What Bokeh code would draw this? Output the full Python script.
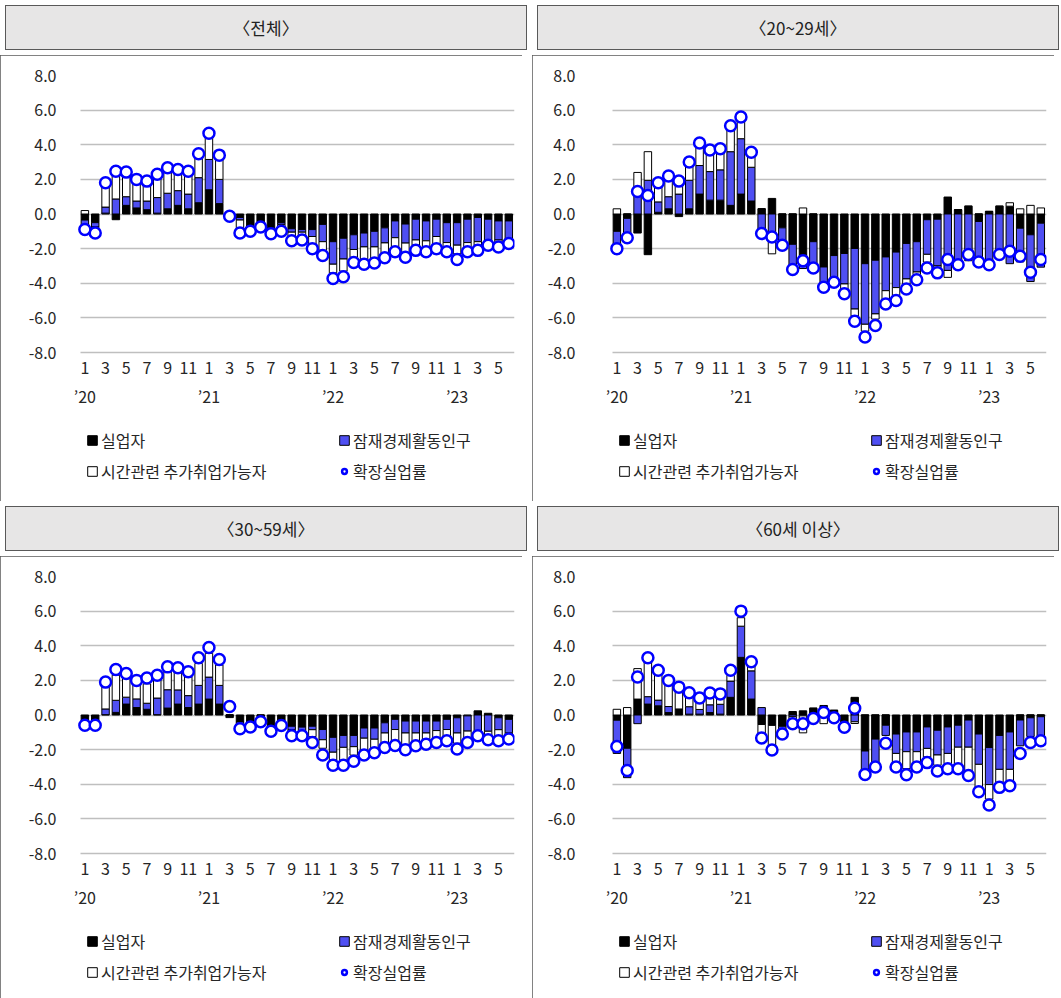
from bokeh.plotting import figure
from bokeh.models import (Range1d, FixedTicker, LinearAxis, Legend, LegendItem, Div,
                          ColumnDataSource, NumeralTickFormatter, BoxAnnotation, Grid)
from bokeh.layouts import column, row
from bokeh.embed import file_html
from bokeh.resources import INLINE

FONT = "Noto Sans CJK KR"

# ---------------- data (Jan 2020 .. Jun 2023, %p change vs. same month of previous year) ----------
months = list(range(42))
month_ticks = [0, 2, 4, 6, 8, 10, 12, 14, 16, 18, 20, 22, 24, 26, 28, 30, 32, 34, 36, 38, 40]
month_tick_labels = ["1", "3", "5", "7", "9", "11", "1", "3", "5", "7", "9", "11",
                     "1", "3", "5", "7", "9", "11", "1", "3", "5"]
year_ticks = [0, 12, 24, 36]
year_tick_labels = ["’20", "’21", "’22", "’23"]
y_ticks = [-8, -6, -4, -2, 0, 2, 4, 6, 8]

panel_titles = ["〈전체〉", "〈20~29세〉", "〈30~59세〉", "〈60세 이상〉"]
series_names = ["실업자", "잠재경제활동인구", "시간관련 추가취업가능자", "확장실업률"]

# 전체
all_unemp = [-0.35, -0.5, 0.05, -0.33, 0.5, 0.35, 0.25, 0.05, 0.3, 0.5, 0.3, 0.65, 1.4, 0.6,
             -0.1, -0.2, -0.7, -0.65, -0.8, -0.5, -0.85, -0.9, -0.9, -0.6, -1.6, -1.4, -1.2, -1.1,
             -1.0, -0.8, -0.4, -0.58, -0.3, -0.4, -0.3, -0.5, -0.5, -0.3, -0.2, -0.3, -0.4, -0.4]
all_potential = [-0.3, -0.25, 0.35, 0.87, 0.5, 0.4, 0.5, 0.9, 0.9, 0.85, 0.85, 1.45, 1.75, 1.4,
                 -0.02, -0.15, -0.1, -0.05, -0.1, -0.1, -0.2, -0.15, -0.4, -1.0, -1.3, -1.2, -0.85, -0.8,
                 -0.9, -0.87, -0.97, -1.1, -1.2, -1.15, -1.0, -1.15, -1.3, -1.35, -1.4, -1.25, -1.1, -1.2]
all_timerel = [0.2, -0.05, 1.4, 1.6, 1.4, 1.25, 1.15, 1.4, 1.45, 1.2, 1.3, 1.4, 1.5, 1.4,
               0.0, -0.45, -0.2, -0.05, -0.2, -0.4, -0.45, -0.45, -0.6, -0.5, -0.5, -0.7, -0.45, -0.75,
               -0.7, -0.58, -0.63, -0.6, -0.3, -0.35, -0.5, -0.35, -0.5, -0.25, -0.2, -0.1, -0.2, -0.1]
all_rate = [-0.9, -1.1, 1.8, 2.47, 2.42, 2.0, 1.9, 2.3, 2.67, 2.57, 2.47, 3.48, 4.66, 3.4,
            -0.13, -1.1, -1.0, -0.75, -1.14, -1.0, -1.55, -1.5, -2.0, -2.4, -3.73, -3.63, -2.8, -2.9,
            -2.83, -2.53, -2.18, -2.5, -2.1, -2.18, -2.0, -2.18, -2.63, -2.18, -2.1, -1.8, -1.9, -1.7]

# 20~29세
y20_unemp = [-1.0, -0.25, -1.1, -2.35, 0.1, 0.3, -0.15, 0.3, 1.15, 0.8, 0.8, 0.5, 1.15, 0.75,
             0.3, 0.9, -0.8, -1.75, -2.35, -1.6, -3.06, -2.4, -2.28, -1.99, -2.87, -2.67, -2.48, -2.2,
             -1.7, -1.6, -0.33, -0.3, 0.98, 0.25, 0.45, -0.43, 0.15, 0.45, 0.45, -0.82, -1.2, -0.53]
y20_potential = [-0.9, -1.05, 1.55, 1.95, 0.6, 0.7, 1.15, 1.65, 1.65, 1.65, 1.75, 3.1, 3.2, 1.95,
                 -1.05, -1.55, -1.0, -1.35, -0.8, -1.5, -0.9, -1.37, -1.76, -3.5, -3.5, -3.1, -1.95, -2.05,
                 -2.05, -1.75, -2.0, -2.7, -3.26, -2.77, -2.7, -2.44, -2.87, -2.58, -2.87, -1.95, -2.7, -2.54]
y20_timerel = [0.3, 0.0, 0.85, 1.65, 1.35, 1.2, 0.7, 1.0, 1.25, 1.25, 1.2, 1.5, 1.2, 0.75,
               0.0, -0.75, 0.0, 0.0, 0.35, 0.0, -0.1, -0.1, -0.3, -0.4, -0.4, -0.3, -0.5, -0.45,
               -0.3, -0.15, -0.45, -0.1, -0.4, 0.0, 0.0, 0.0, 0.0, 0.0, 0.2, 0.3, 0.5, 0.35]
y20_rate = [-2.0, -1.37, 1.3, 1.07, 1.8, 2.2, 1.9, 3.0, 4.1, 3.7, 3.77, 5.1, 5.6, 3.57,
            -1.13, -1.33, -1.8, -3.2, -2.7, -3.12, -4.23, -3.94, -4.6, -6.2, -7.1, -6.44, -5.2, -5.0,
            -4.33, -3.8, -3.12, -3.4, -2.63, -2.93, -2.34, -2.77, -2.93, -2.34, -2.15, -2.44, -3.36, -2.63]

# 30~59세
y30_unemp = [-0.4, -0.4, 0.02, 0.15, 0.63, 0.43, 0.33, 0.02, 0.4, 0.63, 0.43, 0.63, 0.92, 0.63,
             -0.15, -0.4, -0.45, -0.35, -0.6, -0.55, -0.65, -0.7, -0.65, -0.84, -1.29, -1.18, -1.18, -0.75,
             -0.75, -0.45, -0.25, -0.35, -0.35, -0.35, -0.35, -0.25, -0.16, -0.05, 0.24, 0.1, -0.16, -0.25]
y30_potential = [-0.1, -0.1, 0.33, 0.7, 0.4, 0.5, 0.35, 0.96, 1.06, 0.82, 0.69, 1.08, 1.27, 1.08,
                 0.0, -0.1, -0.05, 0.0, -0.1, -0.05, -0.2, -0.2, -0.2, -0.59, -0.86, -0.69, -0.65, -0.59,
                 -0.65, -0.59, -0.59, -0.69, -0.69, -0.69, -0.55, -0.59, -0.88, -0.88, -0.94, -0.94, -0.69, -0.78]
y30_timerel = [-0.1, -0.1, 1.3, 1.45, 1.08, 0.88, 1.12, 1.04, 1.04, 1.04, 1.08, 1.27, 1.37, 1.18,
               0.0, -0.2, -0.15, -0.05, -0.2, -0.05, -0.3, -0.3, -0.4, -0.49, -0.45, -0.75, -0.49, -0.69,
               -0.53, -0.59, -0.69, -0.69, -0.49, -0.49, -0.53, -0.49, -0.59, -0.39, -0.1, -0.3, -0.39, -0.2]
y30_rate = [-0.59, -0.59, 1.9, 2.63, 2.4, 2.0, 2.14, 2.3, 2.78, 2.73, 2.5, 3.31, 3.9, 3.2,
            0.49, -0.8, -0.69, -0.39, -0.94, -0.61, -1.2, -1.2, -1.59, -2.31, -2.9, -2.9, -2.67, -2.31,
            -2.18, -1.88, -1.76, -2.0, -1.78, -1.69, -1.59, -1.49, -1.96, -1.59, -1.2, -1.43, -1.49, -1.39]

# 60세 이상
y60_unemp = [-0.3, -1.92, 0.92, 0.63, 0.53, 0.14, 0.33, 0.05, 0.05, 0.14, 0.05, 1.02, 3.33, 0.92,
             -0.55, -0.55, -0.65, 0.2, 0.24, 0.39, 0.5, 0.27, -0.39, 1.02, -2.08, -1.39, -0.59, -1.1,
             -0.98, -0.98, -0.69, -0.88, -0.69, -0.59, -0.29, -1.1, -1.88, -1.18, -0.98, -0.29, -0.16, -0.1]
y60_potential = [-1.92, -1.7, -0.5, 0.43, 0.33, 0.35, 0.02, 0.43, 0.27, 0.45, 0.57, 0.94, 1.8, 1.63,
                 0.43, -0.05, -0.3, -0.1, -0.05, 0.0, 0.05, 0.0, -0.1, -0.39, -1.31, -1.41, -0.59, -1.12,
                 -1.14, -1.14, -1.24, -1.43, -1.53, -1.27, -1.57, -1.75, -2.14, -1.96, -2.16, -1.49, -1.08, -1.24]
y60_timerel = [0.33, 0.43, 1.76, 2.2, 1.63, 1.31, 1.27, 0.69, 0.55, 0.53, 0.45, 0.33, 0.49, 0.27,
               -0.5, -1.67, -0.1, -0.6, -0.98, -0.45, -0.5, -0.35, -0.1, -0.1, 0.0, 0.0, 0.0, -0.49,
               -0.98, -0.59, -0.49, -0.59, -0.59, -1.04, -1.43, -1.33, -0.84, -0.75, -0.65, 0.0, 0.0, 0.0]
y60_rate = [-1.82, -3.2, 2.2, 3.31, 2.59, 2.0, 1.61, 1.29, 0.98, 1.27, 1.22, 2.59, 6.0, 3.08,
            -1.33, -2.02, -1.1, -0.51, -0.51, -0.2, 0.14, -0.16, -0.71, 0.39, -3.43, -3.0, -1.63, -3.0,
            -3.45, -3.0, -2.75, -3.24, -3.1, -3.1, -3.49, -4.43, -5.2, -4.18, -4.08, -2.22, -1.59, -1.49]

panel_data = [
    (all_unemp, all_potential, all_timerel, all_rate),
    (y20_unemp, y20_potential, y20_timerel, y20_rate),
    (y30_unemp, y30_potential, y30_timerel, y30_rate),
    (y60_unemp, y60_potential, y60_timerel, y60_rate),
]

# ---------------- styling / layout constants ----------------
BAR_COLORS = ["#000000", "#4f4ff2", "#ffffff"]
TEXT = "#262626"
GRID = "#bfbfbf"
BORDER = "#595959"
CELL_W = 522
HEAD_H = 45
FIG_H = 446
TOP = 20          # space between header and the 8.0 gridline
BOTTOM = 2
LEFT = 69         # frame starts a little left of the gridlines so the '20 label is not clipped
RIGHT = 8
AXIS_PX = 277     # pixel distance from 8.0 to -8.0
FRAME_H = FIG_H - TOP - BOTTOM
FRAME_W = CELL_W - LEFT - RIGHT
Y_MAX = 8.0
Y_MIN_AXIS = -8.0
# the plotting frame extends below -8.0 so axes labels and legend sit inside it
Y_START = Y_MAX - (Y_MAX - Y_MIN_AXIS) * FRAME_H / AXIS_PX
X_GRID_START = -0.42
X_END = 41.55
BAR_PX = 10.34    # pixels per month
X_START = X_END - FRAME_W / BAR_PX
LEGEND_VY = (FRAME_H - AXIS_PX) - 131
Y_LABEL_STANDOFF = [13, 26, 13, 26]
CELL_OUTLINE = {"outline": "1px solid " + BORDER, "outline-offset": "-1px"}


def stack(components):
    """Excel-like stacking: positives upward, negatives downward, in series order."""
    n = len(components[0])
    pos = [0.0] * n
    neg = [0.0] * n
    out = []
    for comp in components:
        bottoms, tops = [], []
        for i, v in enumerate(comp):
            if v >= 0:
                bottoms.append(pos[i]); tops.append(pos[i] + v); pos[i] += v
            else:
                tops.append(neg[i]); bottoms.append(neg[i] + v); neg[i] += v
        out.append((bottoms, tops))
    return out


def make_panel(title, data, ylabel_standoff):
    unemp, potential, timerel, rate = data
    p = figure(width=CELL_W, height=FIG_H, x_range=Range1d(X_START, X_END),
               y_range=Range1d(Y_START, Y_MAX),
               x_axis_location=None, output_backend="svg", toolbar_location=None,
               min_border_left=LEFT, min_border_right=RIGHT, min_border_top=TOP,
               min_border_bottom=BOTTOM, styles=dict(CELL_OUTLINE))
    p.outline_line_color = None
    p.background_fill_color = "white"
    p.border_fill_color = "white"

    # y axis
    p.yaxis.ticker = FixedTicker(ticks=y_ticks)
    p.yaxis.formatter = NumeralTickFormatter(format="0.0")
    p.yaxis.axis_line_color = None
    p.yaxis.major_tick_line_color = None
    p.yaxis.minor_tick_line_color = None
    p.yaxis.major_tick_in = 0
    p.yaxis.major_tick_out = 0
    p.yaxis.major_label_standoff = ylabel_standoff
    p.yaxis.major_label_text_font = FONT
    p.yaxis.major_label_text_font_size = "16px"
    p.yaxis.major_label_text_color = TEXT
    p.ygrid.grid_line_color = GRID
    p.ygrid.grid_line_width = 1.3
    p.xgrid.visible = False
    if "cross_bounds" in Grid.properties():
        p.ygrid.cross_bounds = (X_GRID_START, X_END)
    else:
        # hide the grid lines in the small strip left of the first bar
        p.add_layout(BoxAnnotation(left=X_START, right=X_GRID_START, bottom=Y_MIN_AXIS - 0.2,
                                   top=Y_MAX + 0.2, fill_color="white", fill_alpha=1.0,
                                   line_color=None, level="underlay"))

    # x axes (months and years) pinned to the -8.0 line
    ax_m = LinearAxis(ticker=FixedTicker(ticks=month_ticks),
                      major_label_overrides=dict(zip(month_ticks, month_tick_labels)))
    ax_y = LinearAxis(ticker=FixedTicker(ticks=year_ticks),
                      major_label_overrides=dict(zip(year_ticks, year_tick_labels)))
    for ax, standoff in ((ax_m, 9), (ax_y, 31)):
        ax.fixed_location = Y_MIN_AXIS
        ax.axis_line_color = None
        ax.major_tick_line_color = None
        ax.minor_tick_line_color = None
        ax.major_tick_in = 0
        ax.major_tick_out = 0
        ax.major_label_standoff = standoff
        ax.major_label_text_font = FONT
        ax.major_label_text_font_size = "16px"
        ax.major_label_text_color = TEXT
        p.add_layout(ax, "below")

    # stacked bars
    stacks = stack([unemp, potential, timerel])
    bar_renderers = []
    for (bottoms, tops), color in zip(stacks, BAR_COLORS):
        src = ColumnDataSource(dict(x=months, bottom=bottoms, top=tops))
        r = p.vbar(x="x", bottom="bottom", top="top", width=0.72, source=src,
                   fill_color=color, line_color="black", line_width=1)
        bar_renderers.append(r)

    # markers
    r_rate = p.scatter(months, rate, marker="circle", size=11, fill_color="white",
                       line_color="#0000ff", line_width=2.5)

    legend = Legend(items=[LegendItem(label=series_names[0], renderers=[bar_renderers[0]]),
                           LegendItem(label=series_names[1], renderers=[bar_renderers[1]]),
                           LegendItem(label=series_names[2], renderers=[bar_renderers[2]]),
                           LegendItem(label=series_names[3], renderers=[r_rate])],
                    orientation="horizontal", ncols=2, location=(17, LEGEND_VY),
                    label_text_font=FONT, label_text_font_size="16px", label_text_color=TEXT,
                    glyph_width=12, glyph_height=12, label_standoff=3, label_width=230,
                    label_height=24, spacing=7, padding=0, margin=0,
                    border_line_color=None, background_fill_alpha=0)
    p.add_layout(legend, "center")

    header = Div(text=title, width=CELL_W, height=HEAD_H,
                 styles={"background-color": "#e7e6e6", "text-align": "center",
                         "font-family": FONT, "font-size": "17px", "line-height": "45px",
                         "color": "#222222", "outline": "1px solid " + BORDER,
                         "outline-offset": "-1px"})
    return column(header, p, spacing=0)


cells = [make_panel(t, d, s) for t, d, s in zip(panel_titles, panel_data, Y_LABEL_STANDOFF)]
layout = column(row(cells[0], cells[1], spacing=0), row(cells[2], cells[3], spacing=0), spacing=0)

open("out.html", "w").write(file_html(layout, INLINE))
